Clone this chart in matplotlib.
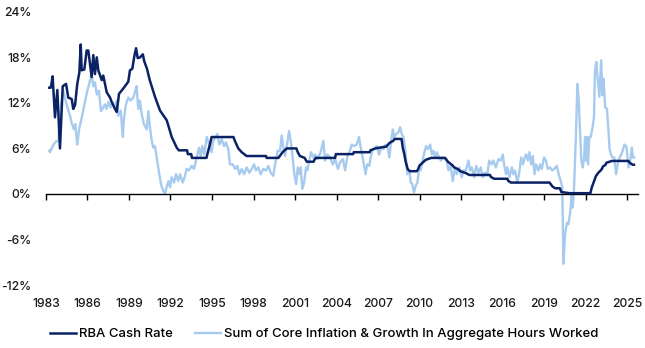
import matplotlib
matplotlib.use("Agg")
from matplotlib import pyplot as plt

plt.rcParams["font.family"] = ["Inter", "DejaVu Sans"]
plt.rcParams["font.weight"] = "medium"

# RBA cash rate (year fraction, %)
rba_years = [
    1983.24, 1983.35, 1983.48, 1983.65, 1983.82, 1984.01, 1984.21, 1984.45,
    1984.61, 1984.86, 1984.97, 1985.10, 1985.26, 1985.41, 1985.51, 1985.58,
    1985.77, 1985.94, 1986.06, 1986.18, 1986.30, 1986.42, 1986.54, 1986.67,
    1986.78, 1987.03, 1987.14, 1987.39, 1987.63, 1987.75, 1987.99, 1988.11,
    1988.28, 1988.59, 1988.95, 1989.07, 1989.24, 1989.38, 1989.51, 1989.63,
    1989.80, 1990.00, 1990.10, 1990.30, 1990.50, 1990.88, 1991.24, 1991.73,
    1992.09, 1992.45, 1992.60, 1993.20, 1993.25, 1993.50, 1993.55, 1994.60,
    1994.70, 1994.85, 1994.97, 1996.55, 1996.65, 1996.90, 1997.15, 1997.50,
    1998.90, 1998.95, 1999.80, 1999.90, 2000.10, 2000.40, 2001.10, 2001.20,
    2001.35, 2001.70, 2001.85, 2002.35, 2002.40, 2002.50, 2003.90, 2003.95,
    2005.20, 2005.25, 2006.40, 2006.45, 2006.80, 2007.60, 2007.85, 2008.10,
    2008.20, 2008.70, 2008.80, 2008.90, 2009.00, 2009.15, 2009.30, 2009.80,
    2009.90, 2010.00, 2010.30, 2010.45, 2010.85, 2011.85, 2011.95, 2012.05,
    2012.40, 2012.50, 2012.80, 2012.95, 2013.35, 2013.60, 2015.10, 2015.15,
    2015.40, 2016.35, 2016.40, 2016.60, 2019.40, 2019.50, 2019.60, 2019.80,
    2020.15, 2020.20, 2020.25, 2020.85, 2022.35, 2022.45, 2022.55, 2022.65,
    2022.75, 2022.85, 2022.95, 2023.10, 2023.20, 2023.25, 2023.45, 2023.50,
    2023.90, 2025.10, 2025.20, 2025.40, 2025.50,
]
rba_rate = [
    14.0, 14.0, 15.5, 10.1, 13.7, 6.0, 14.2, 14.5,
    12.7, 12.5, 11.2, 11.7, 14.5, 16.0, 19.7, 16.3,
    16.4, 18.9, 18.9, 17.1, 15.4, 18.3, 15.8, 18.0,
    16.3, 15.0, 15.6, 13.4, 12.7, 12.1, 11.2, 10.8,
    13.2, 13.9, 14.8, 16.3, 16.5, 18.1, 19.2, 17.9,
    18.0, 18.4, 17.5, 16.5, 15.0, 12.8, 11.0, 9.7,
    7.5, 6.1, 5.75, 5.75, 5.25, 5.25, 4.75, 4.75,
    5.5, 6.5, 7.5, 7.5, 7.0, 6.0, 5.5, 5.0,
    5.0, 4.75, 4.75, 5.0, 5.5, 6.0, 6.0, 5.5,
    5.0, 4.75, 4.25, 4.25, 4.5, 4.75, 4.75, 5.25,
    5.25, 5.5, 5.5, 5.75, 6.0, 6.25, 6.75, 7.0,
    7.25, 7.25, 6.0, 5.25, 4.25, 3.25, 3.0, 3.0,
    3.25, 3.75, 4.25, 4.5, 4.75, 4.75, 4.5, 4.25,
    3.75, 3.5, 3.25, 3.0, 2.75, 2.5, 2.5, 2.25,
    2.0, 2.0, 1.75, 1.5, 1.5, 1.25, 1.0, 0.75,
    0.75, 0.5, 0.25, 0.1, 0.1, 0.85, 1.35, 1.85,
    2.35, 2.6, 2.85, 3.1, 3.35, 3.6, 3.85, 4.1,
    4.35, 4.35, 4.1, 3.85, 3.85,
]

# core inflation + growth in aggregate hours worked (year fraction, %)
sum_years = [
    1983.24, 1983.29, 1983.41, 1983.58, 1983.72, 1983.90, 1984.01, 1984.13,
    1984.25, 1984.37, 1984.49, 1984.74, 1984.85, 1985.02, 1985.12, 1985.26,
    1985.41, 1985.58, 1985.82, 1985.99, 1986.18, 1986.30, 1986.42, 1986.54,
    1986.67, 1986.83, 1986.97, 1987.14, 1987.26, 1987.38, 1987.50, 1987.67,
    1987.82, 1987.99, 1988.11, 1988.23, 1988.40, 1988.55, 1988.64, 1988.78,
    1988.95, 1989.12, 1989.31, 1989.43, 1989.55, 1989.67, 1989.79, 1989.92,
    1990.08, 1990.28, 1990.40, 1990.52, 1990.64, 1990.76, 1990.88, 1991.00,
    1991.19, 1991.34, 1991.48, 1991.60, 1991.72, 1991.85, 1991.97, 1992.09,
    1992.26, 1992.40, 1992.56, 1992.69, 1992.88, 1993.05, 1993.17, 1993.34,
    1993.53, 1993.70, 1993.89, 1994.06, 1994.18, 1994.30, 1994.44, 1994.62,
    1994.81, 1994.97, 1995.09, 1995.27, 1995.38, 1995.53, 1995.70, 1995.87,
    1996.01, 1996.18, 1996.30, 1996.50, 1996.67, 1996.83, 1996.98, 1997.15,
    1997.32, 1997.51, 1997.70, 1997.87, 1998.04, 1998.18, 1998.35, 1998.52,
    1998.71, 1998.91, 1999.07, 1999.24, 1999.43, 1999.61, 1999.75, 1999.92,
    2000.04, 2000.16, 2000.28, 2000.45, 2000.57, 2000.69, 2000.83, 2000.95,
    2001.08, 2001.20, 2001.32, 2001.42, 2001.53, 2001.66, 2001.80, 2001.89,
    2002.04, 2002.16, 2002.33, 2002.45, 2002.62, 2002.76, 2002.81, 2003.05,
    2003.17, 2003.34, 2003.53, 2003.73, 2003.90, 2004.10, 2004.27, 2004.46,
    2004.62, 2004.79, 2004.93, 2005.10, 2005.27, 2005.46, 2005.63, 2005.75,
    2005.89, 2006.01, 2006.10, 2006.22, 2006.37, 2006.47, 2006.59, 2006.79,
    2006.91, 2007.08, 2007.22, 2007.39, 2007.56, 2007.70, 2007.82, 2007.95,
    2008.07, 2008.16, 2008.31, 2008.47, 2008.60, 2008.72, 2008.84, 2008.95,
    2009.03, 2009.12, 2009.27, 2009.37, 2009.48, 2009.60, 2009.73, 2009.85,
    2009.97, 2010.09, 2010.23, 2010.35, 2010.48, 2010.60, 2010.77, 2010.89,
    2011.01, 2011.13, 2011.25, 2011.42, 2011.54, 2011.68, 2011.85, 2011.97,
    2012.09, 2012.26, 2012.40, 2012.57, 2012.69, 2012.88, 2013.05, 2013.16,
    2013.35, 2013.54, 2013.66, 2013.78, 2013.95, 2014.10, 2014.26, 2014.43,
    2014.57, 2014.73, 2014.90, 2015.04, 2015.21, 2015.33, 2015.52, 2015.71,
    2015.88, 2016.02, 2016.11, 2016.26, 2016.35, 2016.50, 2016.67, 2016.78,
    2016.90, 2017.07, 2017.19, 2017.35, 2017.48, 2017.60, 2017.71, 2017.83,
    2017.95, 2018.07, 2018.19, 2018.31, 2018.43, 2018.60, 2018.72, 2018.84,
    2019.00, 2019.14, 2019.27, 2019.43, 2019.60, 2019.75, 2019.92, 2020.06,
    2020.21, 2020.32, 2020.40, 2020.52, 2020.65, 2020.76, 2020.88, 2021.00,
    2021.07, 2021.16, 2021.31, 2021.41, 2021.51, 2021.61, 2021.70, 2021.80,
    2021.90, 2021.97, 2022.04, 2022.11, 2022.18, 2022.27, 2022.37, 2022.51,
    2022.61, 2022.68, 2022.78, 2022.88, 2023.00, 2023.13, 2023.22, 2023.30,
    2023.42, 2023.55, 2023.66, 2023.74, 2023.84, 2023.96, 2024.08, 2024.21,
    2024.37, 2024.48, 2024.65, 2024.81, 2024.95, 2025.11, 2025.23, 2025.35,
    2025.42, 2025.52,
]
sum_vals = [
    5.7, 5.5, 6.0, 6.6, 6.9, 7.0, 10.0, 12.3,
    13.6, 12.7, 11.8, 10.3, 9.4, 8.5, 9.2, 6.5,
    8.7, 10.0, 12.2, 13.6, 14.9, 15.8, 14.2, 14.7,
    13.1, 13.6, 10.9, 11.4, 11.8, 11.2, 12.1, 11.4,
    12.1, 11.4, 12.3, 10.3, 11.0, 7.5, 10.0, 11.8,
    12.7, 12.3, 12.7, 13.4, 14.2, 11.2, 12.3, 10.5,
    9.2, 8.5, 10.9, 8.7, 7.0, 6.1, 6.3, 4.8,
    2.6, 1.1, 0.4, 0.0, 0.9, 1.7, 0.9, 2.2,
    1.5, 2.6, 1.7, 2.6, 1.5, 2.4, 3.3, 3.1,
    3.7, 3.3, 4.8, 6.1, 5.0, 6.3, 5.2, 7.5,
    6.5, 5.5, 7.0, 7.5, 7.9, 6.5, 7.2, 6.3,
    6.8, 5.9, 3.9, 3.9, 3.3, 3.7, 2.6, 3.3,
    2.6, 3.5, 2.8, 3.3, 3.9, 3.1, 3.5, 2.6,
    3.3, 3.1, 3.7, 2.8, 2.4, 4.4, 5.7, 5.7,
    7.7, 6.1, 5.0, 6.8, 8.3, 7.0, 4.8, 2.6,
    1.3, 3.5, 2.6, 3.5, 0.7, 1.5, 3.5, 3.1,
    4.4, 5.5, 4.8, 5.2, 4.6, 5.2, 5.2, 7.0,
    4.4, 5.2, 4.8, 3.9, 4.6, 3.3, 4.2, 4.6,
    3.1, 5.0, 5.5, 6.5, 6.3, 6.5, 7.5, 6.1,
    4.8, 3.5, 2.6, 3.9, 3.7, 4.8, 5.7, 6.1,
    6.3, 5.2, 6.1, 5.9, 6.5, 6.1, 4.8, 7.0,
    8.5, 7.5, 7.9, 8.1, 8.8, 7.9, 7.5, 6.1,
    4.4, 2.6, 3.1, 1.5, 1.3, 0.2, 1.1, 1.5,
    3.5, 3.1, 4.4, 5.5, 6.3, 5.9, 6.5, 5.2,
    5.7, 4.8, 5.5, 4.8, 4.4, 4.8, 4.6, 4.4,
    3.1, 3.7, 1.7, 3.5, 2.6, 3.5, 2.2, 3.1,
    3.1, 4.4, 3.1, 3.5, 2.2, 3.7, 2.8, 3.5,
    2.2, 2.8, 2.6, 4.4, 3.9, 4.4, 3.5, 4.6,
    4.4, 5.2, 3.9, 2.6, 3.5, 2.2, 3.5, 2.6,
    3.1, 1.5, 2.6, 4.8, 3.9, 4.8, 5.2, 4.4,
    5.5, 3.9, 5.0, 2.6, 3.9, 3.1, 3.9, 3.3,
    4.8, 4.4, 3.3, 3.5, 3.1, 3.3, 3.7, 2.6,
    1.7, 0.9, -9.2, -5.3, -3.8, -4.0, -2.6, 0.0,
    -1.8, 0.4, 7.9, 14.5, 12.3, 7.9, 4.4, 3.5,
    4.8, 7.5, 4.4, 7.5, 3.9, 7.5, 7.5, 8.8,
    10.1, 16.1, 17.4, 15.2, 12.8, 17.6, 13.0, 15.2,
    11.4, 11.2, 8.3, 5.9, 5.2, 4.8, 4.8, 2.6,
    4.4, 4.8, 5.5, 6.5, 6.3, 3.5, 4.4, 6.1,
    4.8, 4.8,
]

x_ticks = list(range(1983, 2026, 3))
y_ticks = [-12, -6, 0, 6, 12, 18, 24]
series_labels = ["RBA Cash Rate", "Sum of Core Inflation & Growth In Aggregate Hours Worked"]

fig = plt.figure(figsize=(6.45, 3.48), dpi=100)
ax = fig.add_axes([0.0713, 0.181, 0.918, 0.785])
renderer = fig.canvas.get_renderer()


def fit_size(text, target_px, base=9.0):
    # font size that makes `text` about target_px wide
    t = fig.text(0, 0, text, fontsize=base)
    w = t.get_window_extent(renderer).width
    t.remove()
    return base * target_px / w


tick_fs = fit_size("1983", 28)
leg_fs = fit_size(series_labels[1], 375)

ax.plot(rba_years, rba_rate, color="#0b2265", lw=1.8, label=series_labels[0], zorder=3)
ax.plot(sum_years, sum_vals, color="#a6cbee", lw=1.7, label=series_labels[1], zorder=2)

ax.set_xlim(1983, 2025.8)
ax.set_ylim(-12, 24)

for s in ["top", "right", "left"]:
    ax.spines[s].set_visible(False)
ax.spines["bottom"].set_position(("data", 0))
ax.spines["bottom"].set_linewidth(1.0)

ax.set_xticks(x_ticks)
ax.tick_params(axis="x", length=4, width=1, direction="out", labelbottom=False)
for yr in x_ticks:
    ax.text(yr, -0.068, str(yr), transform=ax.get_xaxis_transform(),
            ha="center", va="center", fontsize=tick_fs, color="#1a1a1a")

ax.set_yticks(y_ticks)
ax.set_yticklabels([f"{v}%" for v in y_ticks], fontsize=tick_fs, color="#1a1a1a")
ax.tick_params(axis="y", length=0, pad=10.5)

# legend: handle 26px, gap 3px, column gap 22px (as in the source)
px = leg_fs * 100 / 72
fig.legend(loc="center left", bbox_to_anchor=(50 / 645, 0.04), borderaxespad=0,
           borderpad=0, ncol=2, frameon=False, fontsize=leg_fs,
           handlelength=26 / px, handletextpad=3 / px, columnspacing=22 / px)

fig.savefig("out.png", dpi=100)
